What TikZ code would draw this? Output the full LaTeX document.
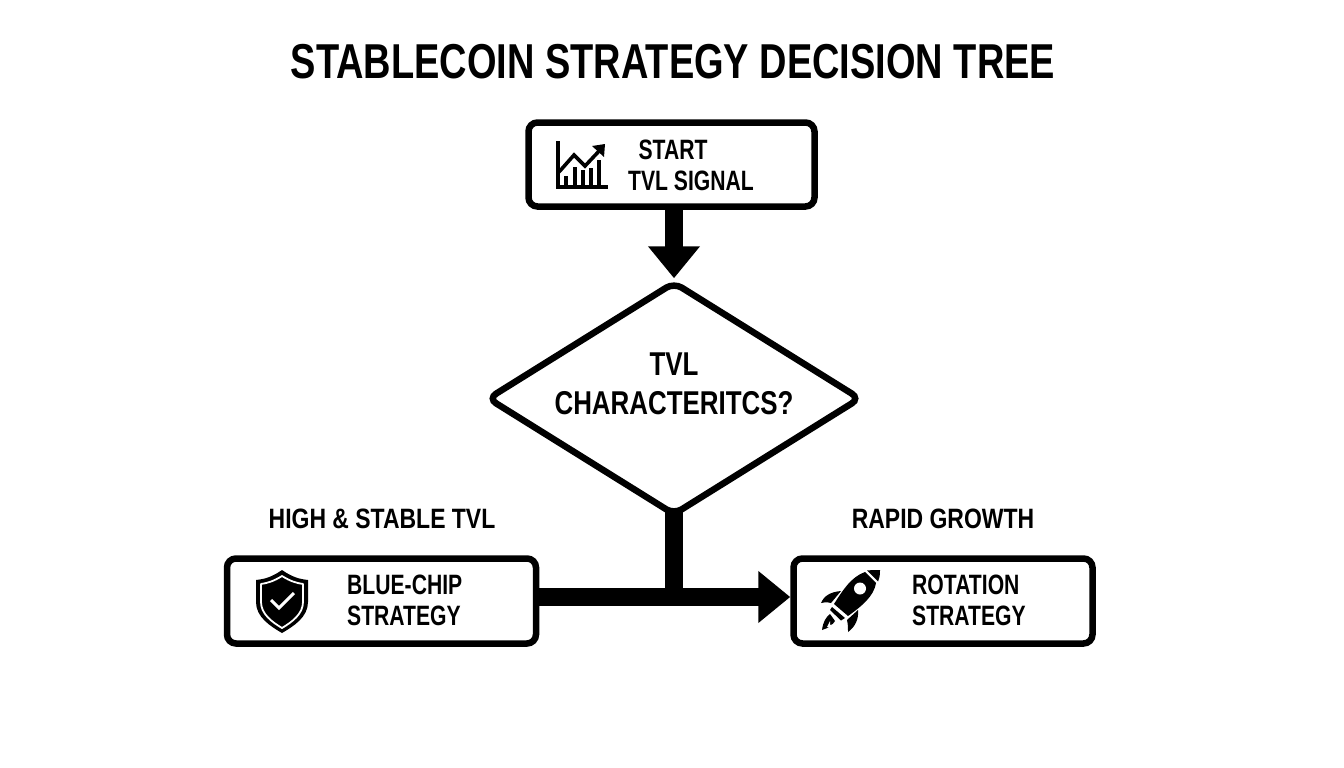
\documentclass[tikz,border=0pt]{standalone}
\usepackage{fontspec}
\setmainfont{Liberation Sans}[FakeStretch=0.82,BoldFont={Liberation Sans Bold}]
\newfontfamily\titlefont{Liberation Sans Bold}[FakeStretch=0.775]
\newfontfamily\labfont{Liberation Sans Bold}[FakeStretch=0.755]
\newfontfamily\decfont{Liberation Sans Bold}[FakeStretch=0.785]
\newfontfamily\tagfont{Liberation Sans Bold}[FakeStretch=0.82]
\usetikzlibrary{arrows.meta,shapes.geometric}
\tikzset{
  x=1pt,y=-1pt,
  box/.style={draw=black,line width=6.5pt,rounded corners=9pt,fill=white,inner sep=0pt},
  decision/.style={diamond,draw=black,line width=6.5pt,rounded corners=9pt,fill=white,inner sep=0pt,align=center},
  flow/.style={line width=18pt,draw=black,-{Triangle[width=50pt,length=32pt]}},
  plain flow/.style={line width=18pt,draw=black},
  lab/.style={font=\labfont\fontsize{28}{31}\selectfont,align=left,inner sep=0pt},
  tag/.style={font=\tagfont\fontsize{28}{31}\selectfont,inner sep=0pt},
}
\begin{document}
\begin{tikzpicture}
\useasboundingbox (0,0) rectangle (1344,768);
\fill[white] (0,0) rectangle (1344,768);
\node[inner sep=0pt,font=\titlefont\fontsize{49}{50}\selectfont] (title) at (673,61.5) {STABLECOIN STRATEGY DECISION TREE};
\node[box,minimum width=286pt,minimum height=84pt] (start) at (671.5,164.5) {};
\node[box,minimum width=309pt,minimum height=85pt] (blue) at (381.5,601) {};
\node[box,minimum width=299pt,minimum height=85pt] (rot) at (943,601) {};
\node[decision,minimum width=374pt,minimum height=234pt] (dec) at (674,398.5) {};
\node[font=\decfont\fontsize{33}{39}\selectfont,align=center,inner sep=0pt] (dectext) at (674,384) {TVL\\CHARACTERITCS?};
\node[tag] (t1) at (382,518.5) {HIGH \& STABLE TVL};
\node[tag] (t2) at (943,518.5) {RAPID GROWTH};
\node[lab] (s1) at (673,150) {START};
\node[lab] (s2) at (691,181) {TVL SIGNAL};
\node[lab,anchor=west] (b1) at (347,585) {BLUE-CHIP};
\node[lab,anchor=west] (b2) at (347,616) {STRATEGY};
\node[lab,anchor=west] (r1) at (912,585) {ROTATION};
\node[lab,anchor=west] (r2) at (912,616) {STRATEGY};
\coordinate (bl) at ([yshift=4pt]blue.east);
\coordinate (rl) at ([yshift=4pt]rot.west);
\coordinate (j) at (dec.south |- bl);
\coordinate (su) at (dec.north |- start.south);
\draw[plain flow,shorten <=-8pt] (dec.south) -- (j);
\draw[flow] (bl) -- (rl);
\draw[flow] (su) -- (dec.north);
% chart icon
\draw[line width=4pt] (557.5,141) -- (557.5,186.5) -- (608,186.5);
\draw[line width=3.6pt,line join=miter] (559,172) -- (574,155) -- (585,166) -- (601,149);
\fill (592,146) -- (605,144) -- (604,157) -- cycle;
\foreach \x/\t in {566/176,575/167,583/170,591/168,599/160}
  \draw[line width=4pt] (\x,186) -- (\x,\t);
% shield icon
\fill[black] (282,570) .. controls (272,577) and (265,579) .. (256,580) -- (256,602) .. controls (256,617) and (270,626) .. (282,633) .. controls (294,626) and (308,617) .. (308,602) -- (308,580) .. controls (299,579) and (292,577) .. (282,570) -- cycle;
\draw[white,line width=1.8pt,line join=round] (282,576) .. controls (274,581) and (268,583) .. (261,584) -- (261,602) .. controls (261,614) and (272,622) .. (282,628) .. controls (292,622) and (303,614) .. (303,602) -- (303,584) .. controls (296,583) and (290,581) .. (282,576) -- cycle;
\draw[white,line width=3pt] (271,600) -- (279,608) -- (294,593);
% rocket icon
\fill[black] (865,572) .. controls (851,577) and (843,590) .. (834,604) -- (848,616) .. controls (862,606) and (874,596) .. (876,583) -- cycle;
\fill[black] (867,570.5) .. controls (872,570) and (877,570) .. (880,570) .. controls (880,573) and (880,577) .. (878,581.5) -- cycle;
\fill[white] (860,588.5) circle (6pt);
\fill[black] (832,607) -- (845,618) -- (841,620.5) -- (830,610) -- cycle;
\fill[black] (821,603) .. controls (824,596) and (830,592) .. (841,591) -- (831,603) .. controls (827,602) and (824,602) .. (821,603) -- cycle;
\fill[black] (858,610) .. controls (859,619) and (855,627) .. (848,632) .. controls (848,628) and (848,624) .. (847,620) -- cycle;
\fill[black] (830,614) -- (835,621) .. controls (832,626) and (828,628) .. (822,630) .. controls (823,622) and (826,617) .. (830,614) -- cycle;
\fill[white] (827,627) -- (830,621) -- (830,625) -- (834,624) -- (830,627) -- cycle;
\end{tikzpicture}
\end{document}
